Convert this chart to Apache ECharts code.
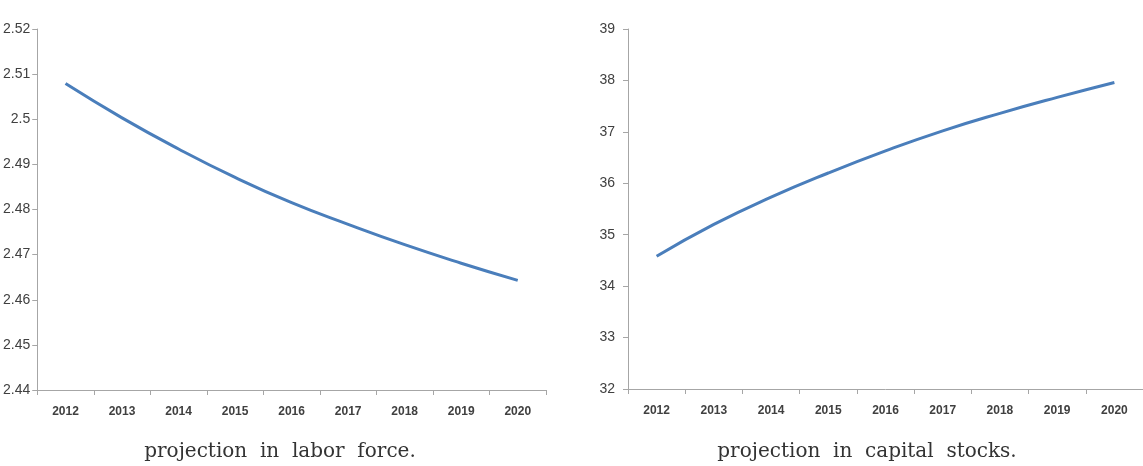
<!DOCTYPE html>
<html>
<head>
<meta charset="utf-8">
<script src="https://cdn.jsdelivr.net/npm/echarts@6/dist/echarts.min.js"></script>
<style>
  html, body { margin: 0; padding: 0; background: #fff; }
  #chart { width: 1143px; height: 466px; }
</style>
</head>
<body>
<div id="chart"></div>
<script>
// years on both x axes
var years = ['2012', '2013', '2014', '2015', '2016', '2017', '2018', '2019', '2020'];
// labor force projection (left)
var laborForce = [2.5079, 2.5003, 2.4934, 2.4871, 2.4815, 2.4767, 2.4722, 2.4681, 2.4643];
// capital stocks projection (right)
var capitalStocks = [34.58, 35.20, 35.73, 36.20, 36.63, 37.02, 37.36, 37.67, 37.96];
var captions = ['projection  in  labor  force.', 'projection  in  capital  stocks.'];

var axisGray = '#a6a6a6';
var labelColor = '#404040';
var lineBlue = '#4a7ebb';
var tickFont = '"Liberation Sans Narrow", "Liberation Sans", sans-serif';
var captionFont = '"DejaVu Serif", "Liberation Serif", serif';

function xAxisFor(gridIndex) {
  return {
    type: 'category',
    gridIndex: gridIndex,
    data: years,
    boundaryGap: true,
    axisLine: { lineStyle: { color: axisGray, width: 1 } },
    axisTick: { show: true, length: 5, lineStyle: { color: axisGray } },
    axisLabel: {
      color: labelColor,
      fontFamily: tickFont,
      fontSize: 12,
      fontWeight: 'bold',
      margin: 16
    },
    splitLine: { show: false }
  };
}

function yAxisFor(gridIndex, min, max, interval, margin) {
  return {
    type: 'value',
    gridIndex: gridIndex,
    min: min,
    max: max,
    interval: interval,
    axisLine: { show: true, lineStyle: { color: axisGray, width: 1 } },
    axisTick: { show: true, length: 5, lineStyle: { color: axisGray } },
    axisLabel: {
      color: labelColor,
      fontFamily: tickFont,
      fontSize: 14,
      margin: margin
    },
    splitLine: { show: false }
  };
}

var chart = echarts.init(document.getElementById('chart'), null, { renderer: 'canvas' });

var option = {
  backgroundColor: '#fff',
  animation: false,
  title: [
    {
      text: captions[0],
      left: 275,
      top: 437,
      textAlign: 'center',
      textStyle: { fontFamily: captionFont, fontSize: 20, fontWeight: 'normal', color: '#333' }
    },
    {
      text: captions[1],
      left: 862,
      top: 437,
      textAlign: 'center',
      textStyle: { fontFamily: captionFont, fontSize: 20, fontWeight: 'normal', color: '#333' }
    }
  ],
  grid: [
    { left: 36, top: 29, width: 510, height: 361 },
    { left: 628, top: 29, width: 521, height: 360 }
  ],
  xAxis: [xAxisFor(0), xAxisFor(1)],
  yAxis: [
    yAxisFor(0, 2.44, 2.52, 0.01, 7),
    yAxisFor(1, 32, 39, 1, 13)
  ],
  series: [
    {
      type: 'line',
      xAxisIndex: 0,
      yAxisIndex: 0,
      data: laborForce,
      smooth: true,
      showSymbol: false,
      lineStyle: { color: lineBlue, width: 3 }
    },
    {
      type: 'line',
      xAxisIndex: 1,
      yAxisIndex: 1,
      data: capitalStocks,
      smooth: true,
      showSymbol: false,
      lineStyle: { color: lineBlue, width: 3 }
    }
  ]
};

chart.setOption(option);
</script>
</body>
</html>
